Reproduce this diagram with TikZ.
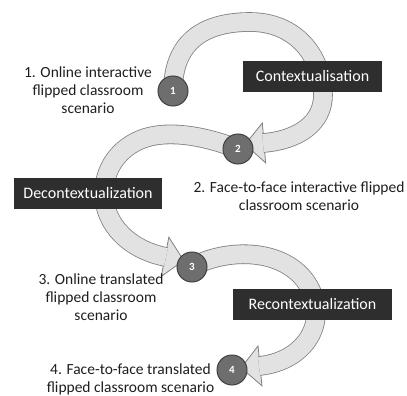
\documentclass[tikz,border=0pt]{standalone}
\usepackage{fontspec}
\setmainfont{Carlito}
\usetikzlibrary{decorations.markings,backgrounds}

\definecolor{bandfill}{HTML}{E2E2E2}
\definecolor{bandedge}{HTML}{808080}
\definecolor{stagefill}{HTML}{2E2E2E}
\definecolor{dotfill}{HTML}{6E6E6E}
\definecolor{dotedge}{HTML}{404040}
\definecolor{labeltext}{HTML}{1E1E1E}

\tikzset{
  band/.style={draw=bandedge, double=bandfill, double distance=18pt, line width=0.8pt},
  head/.style={preaction={decorate, decoration={markings, mark=at position 1 with
    {\filldraw[draw=bandedge, fill=bandfill, line width=0.8pt, line join=miter] (-1,-20) -- (18,0) -- (-1,20) -- cycle;}}}},
  numdot/.style={circle, minimum size=30pt, inner sep=0pt, fill=dotfill, draw=dotedge, line width=1pt,
    text=white, font=\fontsize{11}{13}\selectfont\bfseries},
  stage/.style={fill=stagefill, text=white, minimum height=31pt, inner sep=0pt,
    font=\fontsize{16}{18}\selectfont},
  stagelabel/.style={align=center, text=labeltext, font=\fontsize{15.5}{18}\selectfont}
}

\begin{document}
\begin{tikzpicture}[x=1pt, y=-1pt]
  \useasboundingbox (0,0) rectangle (407,396);

  \node[numdot] (n1) at (173,91) {1};
  \node[numdot] (n2) at (238,149) {2};
  \node[numdot] (n3) at (192,267) {3};
  \node[numdot] (n4) at (232,370) {4};

  \node[stage, minimum width=139pt] (context) at (312.5,76.5) {Contextualisation};
  \node[stage, minimum width=148pt] (decontext) at (88,193.5) {Decontextualization};
  \node[stage, minimum width=159pt] (recontext) at (312.5,304.5) {Recontextualization};

  \node[stagelabel] (lab1) at (88,90) {1. Online interactive\\flipped classroom\\scenario};
  \node[stagelabel] (lab2) at (299,196) {2. Face-to-face interactive flipped\\classroom scenario};
  \node[stagelabel] (lab3) at (101,297) {3. Online translated\\flipped classroom\\scenario};
  \node[stagelabel] (lab4) at (130.5,379) {4. Face-to-face translated\\flipped classroom scenario};

  \coordinate (end1) at (263,143);
  \coordinate (end2) at (166,257);
  \coordinate (end3) at (259,366);

  \begin{pgfonlayer}{background}
    \draw[band, head] (n1.center) .. controls (173,45) and (200,22) .. (250,22)
      .. controls (295,22) and (322,55) .. (323,95)
      .. controls (323,122) and (300,140) .. (end1);
    \draw[band, head] (n2.center) .. controls (205,136) and (170,130) .. (145,138)
      .. controls (118,147) and (104,170) .. (104,193)
      .. controls (104,225) and (130,250) .. (end2);
    \draw[band, head] (n3.center) .. controls (230,246) and (295,248) .. (313,295)
      .. controls (325,330) and (300,362) .. (end3);
  \end{pgfonlayer}
\end{tikzpicture}
\end{document}
